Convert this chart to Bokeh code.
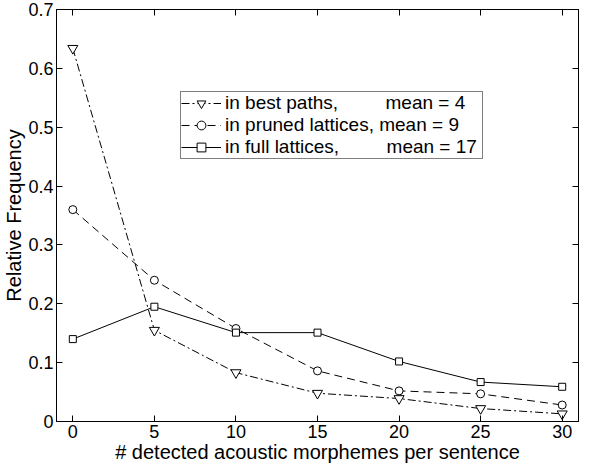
from bokeh.plotting import figure
from bokeh.models import (LinearAxis, FixedTicker, Range1d, Legend, LegendItem)
from bokeh.embed import file_html
from bokeh.resources import INLINE

x_vals = [0, 5, 10, 15, 20, 25, 30]
best_paths = [0.634, 0.155, 0.083, 0.048, 0.039, 0.022, 0.013]
pruned_lattices = [0.360, 0.240, 0.158, 0.086, 0.052, 0.047, 0.028]
full_lattices = [0.140, 0.195, 0.151, 0.151, 0.102, 0.067, 0.059]
x_ticks = [0, 5, 10, 15, 20, 25, 30]
y_ticks = [0, 0.1, 0.2, 0.3, 0.4, 0.5, 0.6, 0.7]
NB = "\u00a0"
labels = ["in best paths," + NB * 9 + "mean = 4",
          "in pruned lattices, mean = 9",
          "in full lattices," + NB * 9 + "mean = 17" + NB]

FONT = "Liberation Sans"

p = figure(width=591, height=465, output_backend="svg", toolbar_location=None,
           x_range=Range1d(-1, 31), y_range=Range1d(0, 0.7),
           min_border_left=51, min_border_right=13, min_border_top=9, min_border_bottom=43)
p.xgrid.visible = False
p.ygrid.visible = False
p.outline_line_color = "black"
p.outline_line_width = 1
p.background_fill_color = "white"
p.border_fill_color = "white"

def style_axis(ax, show_labels):
    ax.axis_line_color = "black"
    ax.major_tick_in = 6
    ax.major_tick_out = 0
    ax.minor_tick_in = 0
    ax.minor_tick_out = 0
    ax.major_tick_line_color = "black"
    ax.major_label_text_font = FONT
    if show_labels:
        ax.major_label_text_font_size = "18px"
        ax.major_label_text_color = "black"
    else:
        ax.major_label_text_font_size = "1px"
        ax.major_label_text_color = None
    ax.major_label_standoff = 3
    ax.axis_label_text_font = FONT
    ax.axis_label_text_font_size = "20px"
    ax.axis_label_text_font_style = "normal"
    ax.axis_label_text_color = "black"
    ax.axis_label_standoff = 0

p.xaxis.ticker = FixedTicker(ticks=x_ticks)
p.yaxis.ticker = FixedTicker(ticks=y_ticks)
p.yaxis.major_label_overrides = {0: "0"}
p.xaxis.axis_label = "# detected acoustic morphemes per sentence"
p.yaxis.axis_label = "Relative Frequency"
style_axis(p.xaxis[0], True)
style_axis(p.yaxis[0], True)

top = LinearAxis(ticker=FixedTicker(ticks=x_ticks))
right = LinearAxis(ticker=FixedTicker(ticks=y_ticks))
style_axis(top, False)
style_axis(right, False)
p.add_layout(top, "above")
p.add_layout(right, "right")

l1 = p.line(x_vals, best_paths, line_color="black", line_width=1, line_dash="8 3 2 3")
m1 = p.scatter(x_vals, best_paths, marker="inverted_triangle", size=10,
               fill_color="white", line_color="black")
l2 = p.line(x_vals, pruned_lattices, line_color="black", line_width=1, line_dash="8 5")
m2 = p.scatter(x_vals, pruned_lattices, marker="circle", size=8,
               fill_color="white", line_color="black")
l3 = p.line(x_vals, full_lattices, line_color="black", line_width=1)
m3 = p.scatter(x_vals, full_lattices, marker="square", size=7,
               fill_color="white", line_color="black")

legend = Legend(items=[LegendItem(label=labels[0], renderers=[l1, m1]),
                       LegendItem(label=labels[1], renderers=[l2, m2]),
                       LegendItem(label=labels[2], renderers=[l3, m3])],
                location=(124, 262))
legend.label_text_font = FONT
legend.label_text_font_size = "19px"
legend.label_text_color = "black"
legend.label_height = 22
legend.glyph_height = 22
legend.glyph_width = 40
legend.spacing = 0
legend.padding = 0
legend.margin = 0
legend.label_standoff = 4
legend.border_line_color = "black"
legend.border_line_width = 1
legend.background_fill_alpha = 1
p.add_layout(legend, "center")

open("out.html", "w").write(file_html(p, INLINE))
